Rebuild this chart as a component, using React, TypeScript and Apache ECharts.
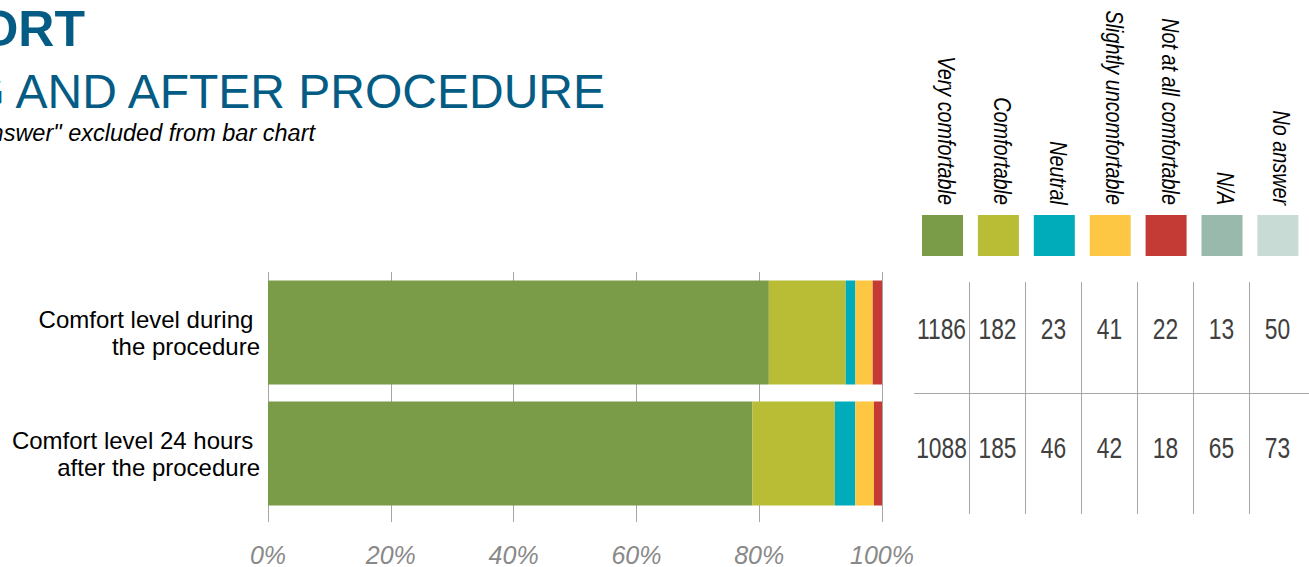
import React, { useEffect, useRef } from "react";
import * as echarts from "echarts";

// ---- data ----
const categories = [
  "Comfort level during \nthe procedure",
  "Comfort level 24 hours \nafter the procedure",
];
const responseLabels = [
  "Very comfortable",
  "Comfortable",
  "Neutral",
  "Slightly uncomfortable",
  "Not at all comfortable",
  "N/A",
  "No answer",
];
const responseColors = ["#7a9b47", "#b8bd35", "#00acb9", "#fdc743", "#c33b34", "#99b9ac", "#c8dbd4"];
const veryComfortable = [1186, 1088];
const comfortable = [182, 185];
const neutral = [23, 46];
const slightlyUncomfortable = [41, 42];
const notAtAllComfortable = [22, 18];
const notApplicable = [13, 65];
const noAnswer = [50, 73];
const xTicks = [0, 20, 40, 60, 80, 100];

const titleBold = "COMFORT";
const titleLine = "DURING AND AFTER PROCEDURE";
const subtitle = "\"N/A\" and \"No answer\" excluded from bar chart";

const allCounts = [
  veryComfortable,
  comfortable,
  neutral,
  slightlyUncomfortable,
  notAtAllComfortable,
  notApplicable,
  noAnswer,
];
const barCounts = allCounts.slice(0, 5);

const SANS = "'Liberation Sans', Arial, sans-serif";

export default function App() {
  const ref = useRef<HTMLDivElement>(null);

  useEffect(() => {
    if (!ref.current) return;
    const chart = echarts.init(ref.current, undefined, { renderer: "svg" });

    const totals = categories.map((_, i) => barCounts.reduce((s, arr) => s + arr[i], 0));

    const series = barCounts.map((arr, k) => ({
      type: "bar",
      name: responseLabels[k],
      stack: "total",
      barWidth: 104,
      itemStyle: { color: responseColors[k] },
      data: arr.map((v, i) => (v / totals[i]) * 100),
      z: 3,
    }));

    const graphics: any[] = [];
    // titles (the page crops them at the left edge, as in the reference)
    graphics.push({
      type: "text",
      x: 85,
      y: 29,
      style: {
        text: titleBold,
        fill: "#045c84",
        font: `bold 50px ${SANS}`,
        align: "right",
        verticalAlign: "middle",
      },
    });
    graphics.push({
      type: "text",
      x: 605,
      y: 91,
      style: {
        text: titleLine,
        fill: "#045c84",
        font: `48px ${SANS}`,
        align: "right",
        verticalAlign: "middle",
      },
    });
    graphics.push({
      type: "text",
      x: 315,
      y: 133,
      style: {
        text: subtitle,
        fill: "#000000",
        font: `italic 23.5px ${SANS}`,
        align: "right",
        verticalAlign: "middle",
      },
    });

    // legend squares and rotated labels (condensed via scaleX along the text direction)
    const colStep = 55.9;
    responseLabels.forEach((lab, k) => {
      const cx = 942.5 + colStep * k;
      graphics.push({
        type: "rect",
        shape: { x: cx - 20.5, y: 215, width: 41, height: 41 },
        style: { fill: responseColors[k] },
      });
      graphics.push({
        type: "text",
        x: cx + 3,
        y: 205,
        rotation: -Math.PI / 2,
        scaleX: 0.86,
        style: {
          text: lab,
          fill: "#000000",
          font: `italic 23px ${SANS}`,
          align: "right",
          verticalAlign: "middle",
        },
      });
    });

    // table lines
    const lineColor = "#a6a6a6";
    for (let k = 1; k < responseLabels.length; k++) {
      const x = 913 + 56 * k;
      graphics.push({
        type: "line",
        shape: { x1: x + 0.5, y1: 282, x2: x + 0.5, y2: 514 },
        style: { stroke: lineColor, lineWidth: 1 },
      });
    }
    graphics.push({
      type: "line",
      shape: { x1: 914, y1: 393.5, x2: 1309, y2: 393.5 },
      style: { stroke: lineColor, lineWidth: 1 },
    });

    // table numbers (condensed)
    const rowY = [329, 448];
    allCounts.forEach((arr, k) => {
      arr.forEach((v, i) => {
        graphics.push({
          type: "text",
          x: 941.5 + 56 * k,
          y: rowY[i],
          scaleX: 0.76,
          style: {
            text: String(v),
            fill: "#404040",
            font: `30px ${SANS}`,
            align: "center",
            verticalAlign: "middle",
          },
        });
      });
    });

    chart.setOption({
      animation: false,
      grid: { left: 268, right: 1309 - 882, top: 272, height: 242, containLabel: false },
      xAxis: {
        type: "value",
        min: 0,
        max: 100,
        interval: 20,
        axisLine: { show: false },
        axisTick: { show: true, length: 8, lineStyle: { color: lineColor } },
        splitLine: { show: true, lineStyle: { color: lineColor, width: 1 } },
        axisLabel: {
          formatter: (v: number) => (xTicks.includes(v) ? `${v}%` : ""),
          color: "#898989",
          fontStyle: "italic",
          fontFamily: SANS,
          fontSize: 25,
          margin: 28,
        },
      },
      yAxis: {
        type: "category",
        inverse: true,
        data: categories,
        axisLine: { show: false },
        axisTick: { show: false },
        axisLabel: {
          color: "#000000",
          fontFamily: SANS,
          fontSize: 24,
          lineHeight: 27,
          align: "right",
          margin: 8,
        },
      },
      series,
      graphic: graphics,
    });

    return () => chart.dispose();
  }, []);

  return (
    <div
      ref={ref}
      style={{ position: "absolute", left: 0, top: 0, width: 1309, height: 567, background: "#ffffff" }}
    />
  );
}
